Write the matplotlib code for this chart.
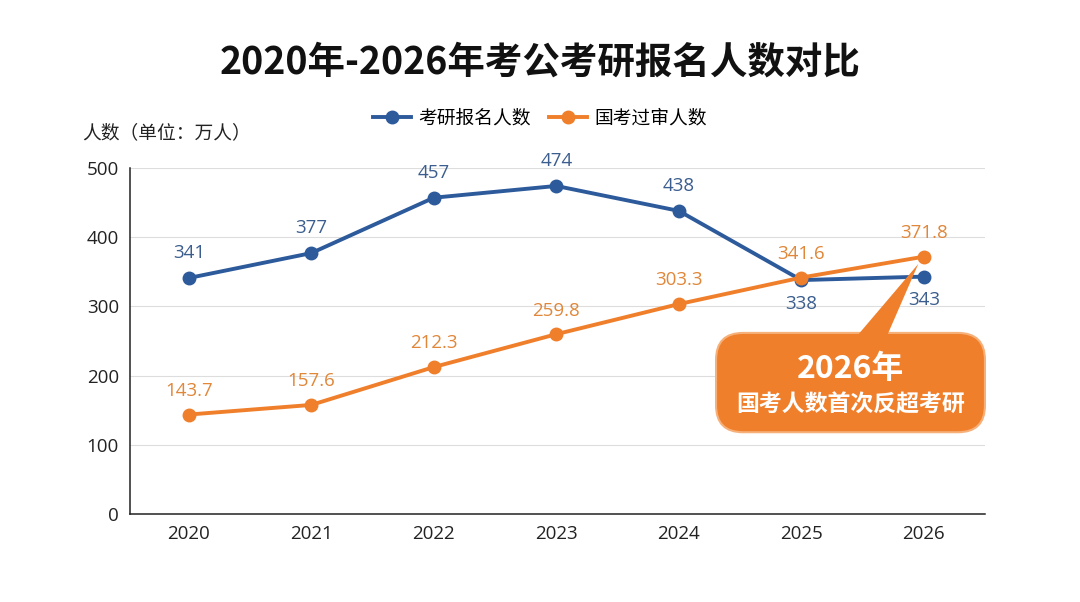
import matplotlib.pyplot as plt
from matplotlib.patches import FancyBboxPatch, Polygon

plt.rcParams['font.family'] = ['Noto Sans CJK SC', 'DejaVu Sans']

years = ["2020", "2021", "2022", "2023", "2024", "2025", "2026"]
kaoyan = [341, 377, 457, 474, 438, 338, 343]
guokao = [143.7, 157.6, 212.3, 259.8, 303.3, 341.6, 371.8]
kaoyan_labels = ["341", "377", "457", "474", "438", "338", "343"]
guokao_labels = ["143.7", "157.6", "212.3", "259.8", "303.3", "341.6", "371.8"]

blue = "#2D5A9B"
orange = "#F07F2B"
blue_txt = "#3B5E8E"
orange_txt = "#E0873A"
num_font = ["Open Sans", "DejaVu Sans"]

fig = plt.figure(figsize=(10.8, 6.02), dpi=100)
ax = fig.add_axes([0.1204, 0.1462, 0.7916, 0.5748])
x = list(range(len(years)))

ax.plot(x, kaoyan, color=blue, lw=2.8, marker="o", ms=9, label="考研报名人数", zorder=3)
ax.plot(x, guokao, color=orange, lw=2.8, marker="o", ms=9, label="国考过审人数", zorder=4)

for i, (v, s) in enumerate(zip(kaoyan, kaoyan_labels)):
    off = -17 if i >= 5 else 18
    ax.annotate(s, (i, v), xytext=(0, off), textcoords="offset points",
                ha="center", va="center", fontsize=13.5, color=blue_txt, family=num_font)
for i, (v, s) in enumerate(zip(guokao, guokao_labels)):
    ax.annotate(s, (i, v), xytext=(0, 17), textcoords="offset points",
                ha="center", va="center", fontsize=13.5, color=orange_txt, family=num_font)

ax.set_xlim(-0.48, 6.5)
ax.set_ylim(0, 500)
ax.set_yticks([0, 100, 200, 300, 400, 500])
ax.set_xticks(x)
ax.set_xticklabels(years)
ax.tick_params(length=0, pad=8, labelcolor="#222222")
for lab in ax.get_xticklabels() + ax.get_yticklabels():
    lab.set_fontfamily(num_font)
    lab.set_fontsize(13.5)
ax.grid(axis="y", color="#dddddd", lw=0.8)
ax.set_axisbelow(True)
for sp in ["top", "right"]:
    ax.spines[sp].set_visible(False)
ax.spines["left"].set_color("#222222")
ax.spines["bottom"].set_color("#222222")
ax.spines["left"].set_linewidth(1.1)
ax.spines["bottom"].set_linewidth(1.1)

fig.text(0.5, 0.897, "2020年-2026年考公考研报名人数对比", ha="center", va="center",
         fontsize=27, fontweight="bold", color="#111111")
fig.text(0.076, 0.779, "人数（单位：万人）", ha="left", va="center", fontsize=13.5, color="#222222")
fig.legend(loc="center", bbox_to_anchor=(0.5, 0.804), ncol=2, frameon=False,
           fontsize=13.5, handlelength=2.0, columnspacing=1.0, handletextpad=0.4)

# callout box
px, py = fig.transFigure.inverted().transform(ax.transData.transform((6, 371.8)))
box = FancyBboxPatch((0.663, 0.282), 0.249, 0.165, boxstyle="round,pad=0,rounding_size=0.025",
                     transform=fig.transFigure, facecolor=orange, edgecolor="#f6b07a", lw=1.5,
                     zorder=5, mutation_aspect=1.79)
fig.patches.append(box)
tri = Polygon([(0.795, 0.445), (0.822, 0.445), (px - 0.005, py - 0.012)], closed=True,
              transform=fig.transFigure, facecolor=orange, edgecolor="none", zorder=6)
fig.patches.append(tri)
fig.text(0.7875, 0.387, "2026年", ha="center", va="center", fontsize=23,
         fontweight="bold", color="white", zorder=7)
fig.text(0.7875, 0.327, "国考人数首次反超考研", ha="center", va="center", fontsize=16.5,
         fontweight="bold", color="white", zorder=7)

fig.savefig("out.png", dpi=100)
